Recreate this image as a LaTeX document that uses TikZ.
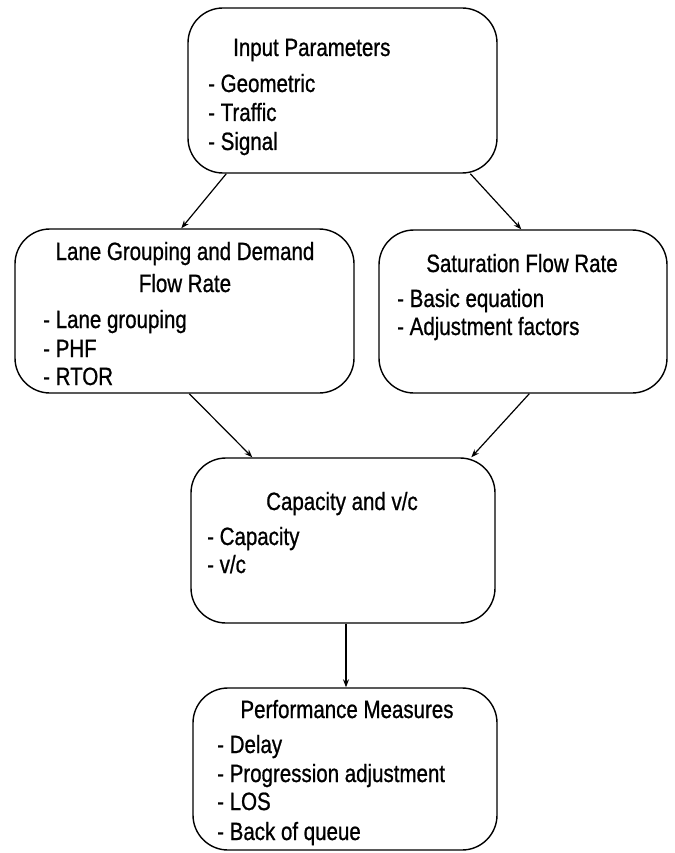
\documentclass[tikz,border=0pt]{standalone}
\usepackage{fontspec}
\setmainfont[FakeStretch=0.82,FakeBold=0.8]{Liberation Sans}
\usetikzlibrary{arrows.meta,calc}
\tikzset{
  boxnode/.style={draw, line width=1.4pt, rounded corners=35pt, inner sep=0pt},
  ttl/.style={anchor=base, inner sep=0pt, font=\fontsize{25}{30}\selectfont},
  itm/.style={anchor=base west, inner sep=0pt, font=\fontsize{25}{30}\selectfont},
  conn/.style={line width=1.2pt, -{Stealth[length=8pt,width=6pt]}}
}
\begin{document}
\begin{tikzpicture}[x=1pt,y=1pt,yscale=-1]
\useasboundingbox (0,0) rectangle (674,853);
\fill[white] (0,0) rectangle (674,853);
% boxes
\node[boxnode, minimum width=309pt, minimum height=165pt] (in) at (342.5,90.5) {};
\node[boxnode, minimum width=339pt, minimum height=164pt] (lane) at (184.5,311) {};
\node[boxnode, minimum width=288pt, minimum height=163pt] (sat) at (523,311.5) {};
\node[boxnode, minimum width=304pt, minimum height=165pt] (cap) at (343,540.5) {};
\node[boxnode, minimum width=304pt, minimum height=162pt] (perf) at (345,769) {};
% texts box 1
\node[itm] (t1) at (233,56) {Input Parameters};
\node[itm] (t1a) at (208,92) {- Geometric};
\node[itm] (t1b) at (208,121) {- Traffic};
\node[itm] (t1c) at (208,150) {- Signal};
% box 2
\node[ttl] (t2) at (185,260) {Lane Grouping and Demand};
\node[ttl] (t2x) at (185,292) {Flow Rate};
\node[itm] (t2a) at (43,328) {- Lane grouping};
\node[itm] (t2b) at (43,357) {- PHF};
\node[itm] (t2c) at (43,385) {- RTOR};
% box 3
\node[ttl] (t3) at (522,272) {Saturation Flow Rate};
\node[itm] (t3a) at (397,307) {- Basic equation};
\node[itm] (t3b) at (397,335) {- Adjustment factors};
% box 4
\node[ttl] (t4) at (342,510) {Capacity and v/c};
\node[itm] (t4a) at (207,545) {- Capacity};
\node[itm] (t4b) at (207,573) {- v/c};
% box 5
\node[ttl] (t5) at (347,718) {Performance Measures};
\node[itm] (t5a) at (217,753) {- Delay};
\node[itm] (t5b) at (217,782) {- Progression adjustment};
\node[itm] (t5c) at (217,810) {- LOS};
\node[itm] (t5d) at (217,840) {- Back of queue};
% connectors
\draw[conn] ($(in.south west)+(39,0)$) -- ($(lane.north west)+(167,0)$);
\draw[conn] ($(in.south west)+(283,0)$) -- ($(sat.north west)+(143,0)$);
\draw[conn] ($(lane.south west)+(175,0)$) -- ($(cap.north west)+(62,0)$);
\draw[conn] ($(sat.south west)+(151,0)$) -- ($(cap.north west)+(281,0)$);
\draw[conn] ($(cap.south)+(3,0)$) -- ($(perf.north)+(1,0)$);
\end{tikzpicture}
\end{document}
